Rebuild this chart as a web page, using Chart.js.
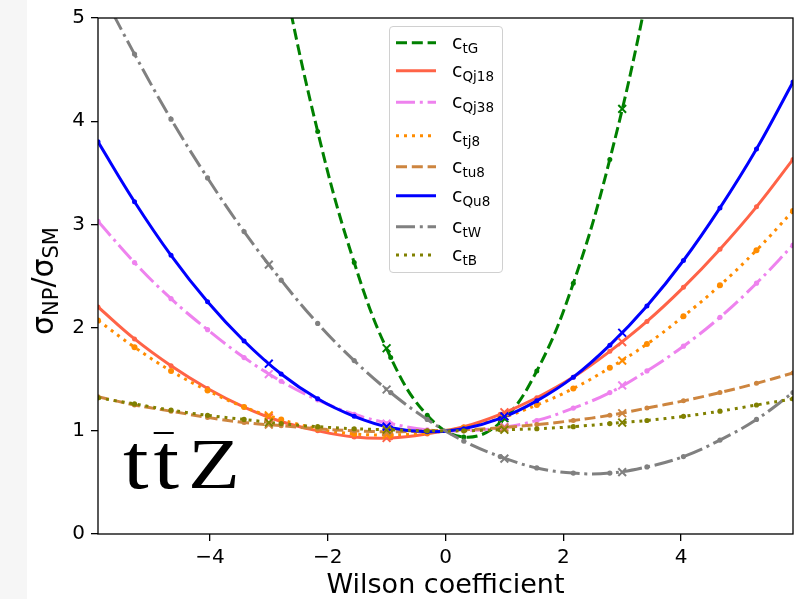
<!DOCTYPE html>
<html><head><meta charset="utf-8">
<script src="https://cdn.jsdelivr.net/npm/chart.js@4.4.0/dist/chart.umd.min.js"></script>
<style>
html,body{margin:0;padding:0;background:#fff;}
#wrap{position:relative;width:809px;height:599px;overflow:hidden;background:#fff;}
#band{position:absolute;left:0;top:0;width:27px;height:599px;background:#f6f6f6;}
#c{position:absolute;left:0;top:0;}
#ylab{position:absolute;left:43px;top:281px;transform:translate(-50%,-50%) rotate(-90deg);font-family:"DejaVu Sans";font-size:30px;line-height:30px;white-space:nowrap;color:#000;}
#ylab sub{font-size:21px;vertical-align:-5px;line-height:0;}
#proc{position:absolute;left:123px;top:429px;font-family:"Liberation Serif";font-size:66px;line-height:66px;transform:scaleX(1.18);transform-origin:0 0;color:#000;white-space:nowrap;}
#proc .t1{font-size:78px;margin-right:4.2px;}
#proc .t2{font-size:78px;position:relative;margin-right:7.5px;}
#proc .t2::before{content:"";position:absolute;left:0;width:17px;top:13.5px;height:2.4px;background:#000;}
#proc .z{font-size:72px;}
#legend{position:absolute;left:389px;top:26px;width:112px;height:245px;border:1px solid #d0d0d0;border-radius:4px;background:rgba(255,255,255,0.8);}
#legend svg{position:absolute;left:0;top:0;}
.lt{position:absolute;left:62px;font-family:"DejaVu Sans";font-size:19px;line-height:22px;white-space:nowrap;color:#000;}
.lt sub{font-size:13.5px;vertical-align:-4px;line-height:0;}
</style></head>
<body>
<div id="wrap">
  <div id="band"></div>
  <canvas id="c" width="809" height="599"></canvas>
  <div id="ylab">σ<sub>NP</sub>/σ<sub>SM</sub></div>
  <div id="proc"><span class="t1">t</span><span class="t2">t</span><span class="z">Z</span></div>
  <div id="legend"></div>
</div>
<script>
// ---- data ----
const wilsonGrid = [-5.9,-5.28,-4.66,-4.04,-3.42,-2.79,-2.17,-1.55,-0.93,-0.31,0.31,0.93,1.55,2.17,2.79,3.42,4.04,4.66,5.28,5.9];
const wilsonMC = [-3,-1,1,3];
const xTicks = [-4,-2,0,2,4];
const yTicks = [0,1,2,3,4,5];

const seriesNames = ['tG','Qj18','Qj38','tj8','tu8','Qu8','tW','tB'];

const ctG    = [19.0,15.6,12.6,9.88,7.54,5.53,3.90,2.63,1.71,1.15,0.94,1.08,1.58,2.43,3.63,5.22,7.14,9.25,12.03,15.0];
const ctG_MC = [6.16,1.80,1.12,4.12];
const cQj18    = [2.20,1.89,1.63,1.41,1.23,1.09,1.00,0.94,0.93,0.97,1.04,1.16,1.32,1.52,1.77,2.06,2.39,2.76,3.17,3.63];
const cQj18_MC = [1.13,0.93,1.18,1.86];
const cQj38    = [3.03,2.63,2.28,1.98,1.71,1.48,1.30,1.16,1.07,1.01,1.00,1.03,1.10,1.22,1.37,1.58,1.82,2.10,2.43,2.80];
const cQj38_MC = [1.55,1.07,1.04,1.44];
const ctj8    = [2.07,1.81,1.58,1.39,1.23,1.11,1.02,0.97,0.96,0.98,1.03,1.12,1.25,1.41,1.61,1.84,2.11,2.41,2.75,3.13];
const ctj8_MC = [1.15,0.96,1.14,1.68];
const ctu8    = [1.33,1.25,1.19,1.13,1.08,1.05,1.02,1.00,0.99,1.00,1.01,1.03,1.06,1.10,1.15,1.22,1.29,1.37,1.46,1.56];
const ctu8_MC = [1.06,0.99,1.03,1.17];
const cQu8    = [3.80,3.22,2.70,2.25,1.87,1.55,1.31,1.14,1.03,0.99,1.02,1.12,1.29,1.52,1.83,2.21,2.65,3.16,3.73,4.38];
const cQu8_MC = [1.65,1.04,1.14,1.95];
const ctW    = [5.32,4.65,4.02,3.45,2.93,2.46,2.04,1.68,1.37,1.11,0.90,0.75,0.64,0.59,0.59,0.65,0.75,0.91,1.11,1.37];
const ctW_MC = [2.61,1.40,0.73,0.60];
const ctB    = [1.32,1.26,1.20,1.15,1.11,1.07,1.04,1.02,1.01,1.00,1.00,1.01,1.02,1.04,1.07,1.10,1.14,1.19,1.25,1.31];
const ctB_MC = [1.08,1.01,1.01,1.08];

const gridValues = [ctG,cQj18,cQj38,ctj8,ctu8,cQu8,ctW,ctB];
const mcValues = [ctG_MC,cQj18_MC,cQj38_MC,ctj8_MC,ctu8_MC,cQu8_MC,ctW_MC,ctB_MC];

// ---- styles ----
const colors = ['#008000','#FF6347','#EE82EE','#FF8C00','#CD853F','#0000FF','#808080','#808000'];
const DASHED = [11,4.8], DASHDOT = [19,4.8,3,4.8], DOTTED = [3,5], SOLID = [];
const dashes = [DASHED,SOLID,DASHDOT,DOTTED,DASHED,SOLID,DASHDOT,DOTTED];
const dotRadius = [2.5,2.5,2.6,3,2.5,2.5,2.6,2.6];
const legendY = [42.7,70.7,102.3,135.7,166.7,195.7,226.7,255];

// ---- datasets ----
const datasets = [];
seriesNames.forEach((n,i)=>{
  datasets.push({
    label:'c_'+n,
    data: wilsonGrid.map((x,j)=>({x:x,y:gridValues[i][j]})),
    borderColor:colors[i], backgroundColor:colors[i],
    borderWidth:3, borderDash:dashes[i], tension:0.4,
    pointStyle:'circle', pointRadius:dotRadius[i], pointBorderWidth:0,
    pointBackgroundColor:colors[i], order: 20-i
  });
  datasets.push({
    label:'c_'+n+' MC',
    data: wilsonMC.map((x,j)=>({x:x,y:mcValues[i][j]})),
    showLine:false, borderColor:colors[i], backgroundColor:colors[i],
    pointStyle:'crossRot', pointRadius:5.5, pointBorderWidth:2,
    pointBorderColor:colors[i], order: 10-i
  });
});

const fmt = v => v < 0 ? '\u2212' + (-v) : String(v);

const framePlugin = {
  id:'frame',
  afterDatasetsDraw(chart){
    const {ctx, chartArea:a} = chart;
    ctx.save();
    ctx.strokeStyle = '#000'; ctx.lineWidth = 1.3;
    ctx.strokeRect(a.left, a.top, a.right-a.left, a.bottom-a.top);
    ctx.restore();
  }
};

const tickFont = {family:'DejaVu Sans', size:20};
new Chart(document.getElementById('c'), {
  type:'line',
  data:{datasets:datasets},
  options:{
    responsive:false, animation:false, events:[],
    layout:{padding:{left:0,right:16,top:16,bottom:0}},
    elements:{line:{capBezierPoints:false}},
    plugins:{legend:{display:false}, tooltip:{enabled:false}},
    scales:{
      x:{
        type:'linear', min:-5.9, max:5.9,
        afterBuildTicks: s => { s.ticks = xTicks.map(v=>({value:v})); },
        afterFit: s => { s.height = 65; },
        ticks:{font:tickFont, color:'#000', padding:5, maxRotation:0, autoSkip:false, callback: v => fmt(v)},
        grid:{display:true, drawOnChartArea:false, drawTicks:true, tickLength:7, color:'#000', lineWidth:1.3},
        border:{display:false},
        title:{display:true, text:'Wilson coefficient', color:'#000', font:{family:'DejaVu Sans', size:27, lineHeight:1}, padding:{top:0,bottom:0}}
      },
      y:{
        type:'linear', min:0, max:5,
        afterBuildTicks: s => { s.ticks = yTicks.map(v=>({value:v})); },
        afterFit: s => { s.width = 98; },
        ticks:{font:tickFont, color:'#000', padding:6, callback: v => fmt(v)},
        grid:{display:true, drawOnChartArea:false, drawTicks:true, tickLength:7, color:'#000', lineWidth:1.3},
        border:{display:false}
      }
    }
  },
  plugins:[framePlugin]
});

// ---- legend ----
const lg = document.getElementById('legend');
const ox = 390, oy = 27;
let svg = '<svg width="112" height="245" xmlns="http://www.w3.org/2000/svg">';
seriesNames.forEach((n,i)=>{
  const y = legendY[i]-oy;
  svg += '<line x1="6" x2="46" y1="'+y+'" y2="'+y+'" stroke="'+colors[i]+'" stroke-width="3" stroke-linecap="butt"'+(dashes[i].length?' stroke-dasharray="'+dashes[i].join(',')+'"':'')+'/>';
});
svg += '</svg>';
let html = svg;
seriesNames.forEach((n,i)=>{
  const top = legendY[i] - 12.1 - oy;
  html += '<div class="lt" style="top:'+top+'px">c<sub>'+n+'</sub></div>';
});
lg.innerHTML = html;
</script>
</body></html>
